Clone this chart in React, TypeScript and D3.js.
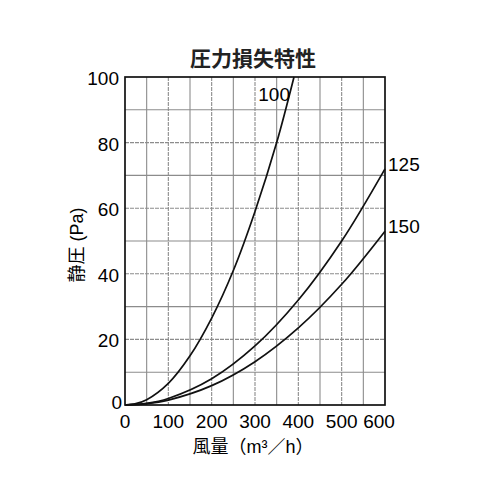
import React, { useEffect, useRef } from 'react';
import * as d3 from 'd3';

// airflow (m3/h) and static pressure (Pa)
const flow100 = [0, 25, 50, 100, 150, 200, 250, 300, 350, 390];
const pres100 = [0, 0.4, 1.6, 6.6, 15, 26.5, 41, 59, 80, 100];
const flow125 = [0, 50, 100, 200, 300, 400, 500, 600];
const pres125 = [0, 0.5, 2, 8, 18, 32, 50, 72];
const flow150 = [0, 50, 100, 200, 300, 400, 500, 600];
const pres150 = [0, 0.4, 1.5, 5.9, 13.2, 23.5, 36.8, 53];
const seriesNames = ['100', '125', '150'];

const xTicks = [0, 100, 200, 300, 400, 500, 600];
const yTicks = [0, 20, 40, 60, 80, 100];

const FONT = '"Liberation Sans", "Noto Sans CJK JP", sans-serif';

const App: React.FC = () => {
  const svgRef = useRef<SVGSVGElement>(null);

  useEffect(() => {
    if (!svgRef.current) return;
    const svg = d3.select(svgRef.current);
    svg.selectAll('*').remove();

    const margin = { top: 77, right: 115, bottom: 95, left: 125 };
    const width = 500 - margin.left - margin.right;
    const height = 500 - margin.top - margin.bottom;

    const x = d3.scaleLinear().domain([0, 600]).range([0, width]);
    const y = d3.scaleLinear().domain([0, 100]).range([height, 0]);

    const g = svg.append('g').attr('transform', `translate(${margin.left},${margin.top})`);

    // grid
    const vLines = d3.range(50, 600, 50);
    const hLines = d3.range(10, 100, 10);
    g.selectAll('.vgrid')
      .data(vLines)
      .enter()
      .append('line')
      .attr('x1', d => x(d))
      .attr('x2', d => x(d))
      .attr('y1', 0)
      .attr('y2', height)
      .attr('stroke', '#8c8c8c')
      .attr('stroke-width', 1.1)
      .attr('stroke-dasharray', d => (d % 100 === 0 ? '4,1' : null));
    g.selectAll('.hgrid')
      .data(hLines)
      .enter()
      .append('line')
      .attr('x1', 0)
      .attr('x2', width)
      .attr('y1', d => y(d))
      .attr('y2', d => y(d))
      .attr('stroke', '#8c8c8c')
      .attr('stroke-width', 1.1)
      .attr('stroke-dasharray', d => (d % 20 === 0 ? '4,1' : null));

    // frame
    g.append('rect')
      .attr('x', 0)
      .attr('y', 0)
      .attr('width', width)
      .attr('height', height)
      .attr('fill', 'none')
      .attr('stroke', '#111')
      .attr('stroke-width', 1.7);

    // curves
    const series = [
      { name: seriesNames[0], pts: flow100.map((f, i) => [f, pres100[i]] as [number, number]) },
      { name: seriesNames[1], pts: flow125.map((f, i) => [f, pres125[i]] as [number, number]) },
      { name: seriesNames[2], pts: flow150.map((f, i) => [f, pres150[i]] as [number, number]) },
    ];
    const line = d3
      .line<[number, number]>()
      .x(d => x(d[0]))
      .y(d => y(d[1]))
      .curve(d3.curveCatmullRom.alpha(0.5));

    g.selectAll('.curve')
      .data(series)
      .enter()
      .append('path')
      .attr('d', d => line(d.pts))
      .attr('fill', 'none')
      .attr('stroke', '#111')
      .attr('stroke-width', 1.7);

    // curve labels
    const last100 = series[0].pts[series[0].pts.length - 1];
    g.append('text')
      .attr('x', x(last100[0]) - 4)
      .attr('y', y(last100[1]) + 24)
      .attr('text-anchor', 'end')
      .style('font-family', FONT)
      .style('font-size', '19px')
      .text(series[0].name);
    [series[1], series[2]].forEach(s => {
      const p = s.pts[s.pts.length - 1];
      g.append('text')
        .attr('x', x(p[0]) + 3)
        .attr('y', y(p[1]) + 2)
        .attr('text-anchor', 'start')
        .style('font-family', FONT)
        .style('font-size', '19px')
        .text(s.name);
    });

    // tick labels
    g.selectAll('.xt')
      .data(xTicks)
      .enter()
      .append('text')
      .attr('x', d => x(d) - (d === 600 ? 6 : 0))
      .attr('y', height + 23)
      .attr('text-anchor', 'middle')
      .style('font-family', FONT)
      .style('font-size', '19px')
      .text(d => d);
    g.selectAll('.yt')
      .data(yTicks)
      .enter()
      .append('text')
      .attr('x', d => (d === 0 ? -3 : -6))
      .attr('y', d => y(d) + (d === 0 ? 4 : 8))
      .attr('text-anchor', 'end')
      .style('font-family', FONT)
      .style('font-size', '19px')
      .text(d => d);

    // title and axis titles
    svg.append('text')
      .attr('x', 253)
      .attr('y', 66)
      .attr('text-anchor', 'middle')
      .style('font-family', FONT)
      .style('font-size', '21px')
      .style('font-weight', 'bold')
      .style('fill', '#222')
      .text('圧力損失特性');
    svg.append('text')
      .attr('x', margin.left + width / 2 - 2)
      .attr('y', 453)
      .attr('text-anchor', 'middle')
      .style('font-family', FONT)
      .style('font-size', '18px')
      .text('風量（m³／h）');
    svg.append('text')
      .attr('transform', `translate(83,${margin.top + height / 2 + 4}) rotate(-90)`)
      .attr('text-anchor', 'middle')
      .style('font-family', FONT)
      .style('font-size', '18px')
      .text('静圧 (Pa)');
  }, []);

  return <svg ref={svgRef} width={500} height={500} style={{ display: 'block', margin: -8, background: '#fff' }} />;
};

export default App;
